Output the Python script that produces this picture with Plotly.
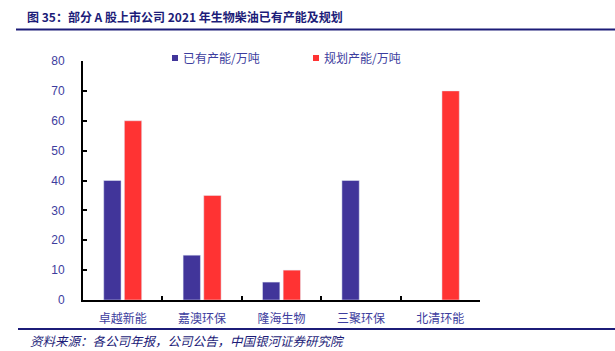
import plotly.graph_objects as go

categories = ["卓越新能", "嘉澳环保", "隆海生物", "三聚环保", "北清环能"]
existing = [40, 15, 6, 40, None]
planned = [60, 35, 10, None, 70]
series_names = ["已有产能/万吨", "规划产能/万吨"]
y_ticks = [0, 10, 20, 30, 40, 50, 60, 70, 80]

BLUE = "#41359a"
RED = "#ff3333"
NAVY = "#1c1c78"
LABEL = "#3d3d9e"
CJK = "Noto Sans CJK SC"

# plot area in pixels
L, R, T, B = 83, 480, 61, 300
PW, PH = R - L, B - T


def px(x):
    return (x - L) / PW


def py(y):
    return (B - y) / PH


fig = go.Figure()
fig.add_trace(go.Bar(x=categories, y=existing, marker_color=BLUE, showlegend=False, name=series_names[0]))
fig.add_trace(go.Bar(x=categories, y=planned, marker_color=RED, showlegend=False, name=series_names[1]))

legend_items = [(series_names[0], BLUE, 175), (series_names[1], RED, 316)]
shapes = [
    dict(type="line", xref="paper", yref="paper", x0=px(16), x1=px(615),
         y0=py(29.5), y1=py(29.5), line=dict(color=NAVY, width=2)),
    dict(type="line", xref="paper", yref="paper", x0=px(18), x1=px(615),
         y0=py(329), y1=py(329), line=dict(color=NAVY, width=2)),
]
annotations = [
    dict(text="<b>图 35：部分 A 股上市公司 2021 年生物柴油已有产能及规划</b>",
         xref="paper", yref="paper", x=px(25), y=py(16),
         xanchor="left", yanchor="middle", showarrow=False,
         font=dict(family=CJK, size=12, color=NAVY)),
    dict(text="<i>资料来源：各公司年报，公司公告，中国银河证券研究院</i>",
         xref="paper", yref="paper", x=px(28), y=py(340),
         xanchor="left", yanchor="middle", showarrow=False,
         font=dict(family=CJK, size=12.5, color=NAVY)),
]
for name, color, cx in legend_items:
    shapes.append(dict(type="rect", xref="paper", yref="paper",
                       x0=px(cx - 3), x1=px(cx + 3), y0=py(61), y1=py(55),
                       fillcolor=color, line=dict(width=0)))
    annotations.append(dict(text=name, xref="paper", yref="paper", x=px(cx + 6), y=py(58),
                            xanchor="left", yanchor="middle", showarrow=False,
                            font=dict(family=CJK, size=12, color=LABEL)))

fig.update_layout(
    width=615, height=351,
    margin=dict(l=L, r=615 - R, t=T, b=351 - B),
    paper_bgcolor="white", plot_bgcolor="white",
    barmode="group", bargap=0.48, bargroupgap=0.16,
    font=dict(family=CJK, size=11, color=LABEL),
    showlegend=False,
    xaxis=dict(showline=True, linecolor="black", linewidth=2, ticks="inside",
               tickson="boundaries", ticklen=4, tickcolor="black", tickwidth=2,
               tickfont=dict(family=CJK, size=12, color=LABEL), showgrid=False,
               ticklabelstandoff=7),
    yaxis=dict(range=[0, 80], tickvals=y_ticks, showline=True, linecolor="black",
               linewidth=2, ticks="inside", ticklen=4, tickcolor="black", tickwidth=2,
               showgrid=False, zeroline=False, ticklabelstandoff=14,
               tickfont=dict(family="Liberation Sans", size=12, color=LABEL)),
    shapes=shapes,
    annotations=annotations,
)

fig.write_html("out.html")
